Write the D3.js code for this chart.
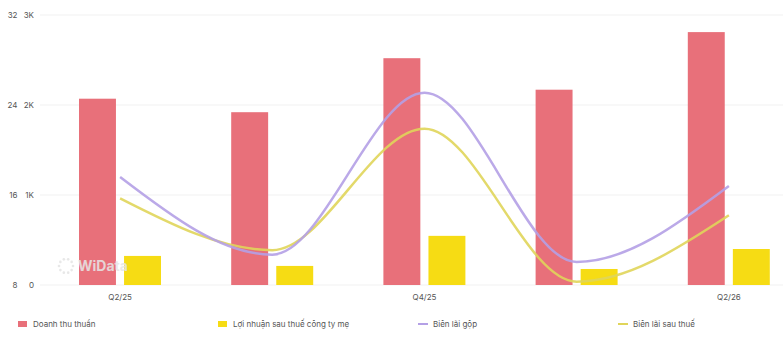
<!DOCTYPE html>
<html>
<head>
<meta charset="utf-8">
<script src="https://cdn.jsdelivr.net/npm/d3@7"></script>
<style>
  html, body { margin: 0; padding: 0; background: #fff; overflow: hidden; }
  svg { display: block; font-family: Inter, "Noto Sans", sans-serif; }
</style>
</head>
<body>
<div id="chart"></div>
<script>
// quarterly data
var quarters   = ['Q2/25', 'Q3/25', 'Q4/25', 'Q1/26', 'Q2/26'];
var revenue    = [2070, 1920, 2520, 2170, 2810];   // Doanh thu thuần
var profit     = [323, 212, 546, 178, 400];        // Lợi nhuận sau thuế công ty mẹ
var grossMargin = [17.6, 10.7, 25.1, 10.05, 16.8]; // Biên lãi gộp (%)
var netMargin   = [15.7, 11.1, 21.9, 8.3, 14.2];   // Biên lãi sau thuế (%)
var marginTicks  = [8, 16, 24, 32];
var revenueTicks = [0, 1000, 2000, 3000];
var shownLabels  = ['Q2/25', 'Q4/25', 'Q2/26'];

var W = 783, H = 337;
var RED = '#e8707a', YELLOW = '#f6dc14', PURPLE = '#b4a0e6', OLIVE = '#e0d55a';

var svg = d3.select('#chart').append('svg')
  .attr('width', W).attr('height', H);

// scales
var x0 = d3.scaleBand().domain(quarters).range([44, 805]);
var x1 = d3.scaleBand().domain(['rev', 'profit']).range([35, 117]).paddingInner(0.18);
var yRev = d3.scaleLinear().domain([0, 3000]).range([285, 15]);
var yPct = d3.scaleLinear().domain([8, 32]).range([285, 15]);

// gridlines
svg.append('g').selectAll('line')
  .data(revenueTicks)
  .enter().append('line')
  .attr('x1', 40).attr('x2', W)
  .attr('y1', function(d) { return yRev(d); })
  .attr('y2', function(d) { return yRev(d); })
  .attr('stroke', '#f1f1f1')
  .attr('stroke-width', 1);

// left axes (two columns)
var axisPct = d3.axisLeft(yPct).tickValues(marginTicks).tickSize(0).tickPadding(0);
var axisRev = d3.axisLeft(yRev).tickValues(revenueTicks).tickSize(0).tickPadding(0)
  .tickFormat(function(d) { return d === 0 ? '0' : (d / 1000) + 'K'; });

[[axisPct, 17.5], [axisRev, 34]].forEach(function(a) {
  var g = svg.append('g').attr('transform', 'translate(' + a[1] + ',0)').call(a[0]);
  g.select('.domain').remove();
  g.selectAll('text').attr('font-size', 8).attr('fill', '#555').attr('font-family', 'Inter, sans-serif');
});

// x axis
var axisX = d3.axisBottom(x0).tickSize(0).tickPadding(0)
  .tickFormat(function(d) { return shownLabels.indexOf(d) >= 0 ? d : ''; });
var gx = svg.append('g').attr('transform', 'translate(0,294)').call(axisX);
gx.select('.domain').remove();
gx.selectAll('text').attr('font-size', 8).attr('fill', '#555').attr('font-family', 'Inter, sans-serif');

// bars
var groups = svg.append('g').selectAll('g')
  .data(quarters)
  .enter().append('g')
  .attr('transform', function(d) { return 'translate(' + x0(d) + ',0)'; });

groups.append('rect')
  .attr('x', x1('rev'))
  .attr('width', x1.bandwidth())
  .attr('y', function(d, i) { return yRev(revenue[i]); })
  .attr('height', function(d, i) { return yRev(0) - yRev(revenue[i]); })
  .attr('fill', RED);

groups.append('rect')
  .attr('x', x1('profit'))
  .attr('width', x1.bandwidth())
  .attr('y', function(d, i) { return yRev(profit[i]); })
  .attr('height', function(d, i) { return yRev(0) - yRev(profit[i]); })
  .attr('fill', YELLOW);

// margin lines
var cx = function(d, i) { return x0(quarters[i]) + x0.bandwidth() / 2; };
var line = d3.line().x(cx).y(function(d) { return yPct(d); }).curve(d3.curveMonotoneX);

svg.append('path').datum(netMargin)
  .attr('d', line).attr('fill', 'none')
  .attr('stroke', OLIVE).attr('stroke-width', 2.5).attr('opacity', 0.9);
svg.append('path').datum(grossMargin)
  .attr('d', line).attr('fill', 'none')
  .attr('stroke', PURPLE).attr('stroke-width', 2.5).attr('opacity', 0.9);

// watermark
var wm = svg.append('g').attr('opacity', 0.85);
d3.range(10).forEach(function(k) {
  var a = k / 10 * Math.PI * 2;
  wm.append('circle')
    .attr('cx', 66 + Math.cos(a) * 7).attr('cy', 266 + Math.sin(a) * 7)
    .attr('r', 1.3).attr('fill', '#e4e4e4');
});
wm.append('text').attr('x', 78).attr('y', 271)
  .attr('font-size', 14).attr('font-weight', 700)
  .attr('fill', '#e6e6e6').text('WiData');

// legend
var legendItems = [
  { label: 'Doanh thu thuần', color: RED, type: 'rect', x: 18 },
  { label: 'Lợi nhuận sau thuế công ty mẹ', color: YELLOW, type: 'rect', x: 218 },
  { label: 'Biên lãi gộp', color: PURPLE, type: 'line', x: 418 },
  { label: 'Biên lãi sau thuế', color: OLIVE, type: 'line', x: 618 }
];
var lg = svg.append('g').selectAll('g')
  .data(legendItems)
  .enter().append('g')
  .attr('transform', function(d) { return 'translate(' + d.x + ',324)'; });

lg.filter(function(d) { return d.type === 'rect'; }).append('rect')
  .attr('x', 0).attr('y', -3).attr('width', 9).attr('height', 6)
  .attr('fill', function(d) { return d.color; });
lg.filter(function(d) { return d.type === 'line'; }).append('line')
  .attr('x1', 0).attr('x2', 10).attr('y1', 0).attr('y2', 0)
  .attr('stroke', function(d) { return d.color; }).attr('stroke-width', 2);
lg.append('text')
  .attr('x', 15).attr('y', 0).attr('dy', '0.35em')
  .attr('font-size', 8).attr('fill', '#555')
  .text(function(d) { return d.label; });
</script>
</body>
</html>
